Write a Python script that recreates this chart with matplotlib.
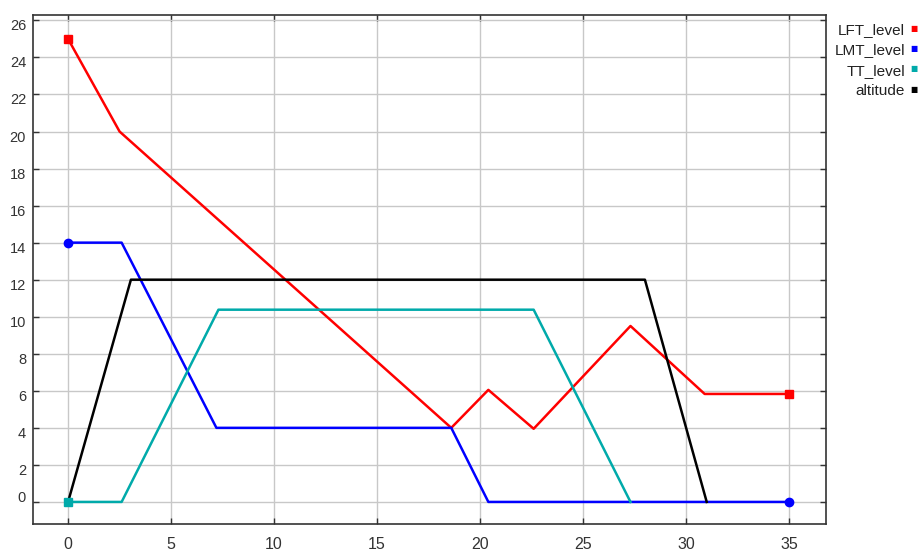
import matplotlib
matplotlib.use('Agg')
import matplotlib.pyplot as plt
import matplotlib.transforms as mtransforms

plt.rcParams['font.family'] = ['Liberation Sans', 'DejaVu Sans']

# series
series_names = ['LFT_level', 'LMT_level', 'TT_level', 'altitude']
series_colors = ['#ff0000', '#0000ff', '#00aaaa', '#000000']

lft_x = [0, 2.5, 18.6, 20.4, 22.6, 27.3, 30.9, 35]
lft_y = [25, 20, 4, 6.05, 3.95, 9.5, 5.83, 5.83]

lmt_x = [0, 2.6, 7.2, 18.6, 20.4, 35]
lmt_y = [14, 14, 4, 4, 0, 0]

tt_x = [0, 2.6, 7.3, 22.6, 27.3]
tt_y = [0, 0, 10.38, 10.38, 0]

alt_x = [0, 3.05, 28.0, 31.0]
alt_y = [0, 12, 12, 0]

xs = [lft_x, lmt_x, tt_x, alt_x]
ys = [lft_y, lmt_y, tt_y, alt_y]
end_markers = ['s', 'o', 's', None]

x_ticks = list(range(0, 36, 5))
y_ticks = list(range(0, 27, 2))

fig = plt.figure(figsize=(9.18, 5.5), dpi=100)
ax = fig.add_axes([0.036, 0.047, 0.864, 0.926])

for i in range(4):
    ax.plot(xs[i], ys[i], color=series_colors[i], lw=1.8, zorder=3)
    if end_markers[i] is not None:
        if i == 2:
            ex, ey = [xs[i][0]], [ys[i][0]]
        else:
            ex, ey = [xs[i][0], xs[i][-1]], [ys[i][0], ys[i][-1]]
        ax.plot(ex, ey, ls='none', marker=end_markers[i], ms=6,
                color=series_colors[i], zorder=4)

ax.set_xlim(-1.7, 36.8)
ax.set_ylim(-1.2, 26.3)
ax.set_xticks(x_ticks)
ax.set_yticks(y_ticks)
ax.grid(True, color='#c8c8c8', lw=1)
ax.set_axisbelow(True)
ax.tick_params(direction='in', length=4, width=1, colors='#333333',
               top=True, right=True, labelcolor='#333333')
ax.tick_params(axis='y', labelsize=10.5, pad=5)
ax.tick_params(axis='x', labelsize=11.5, pad=9)
for s in ax.spines.values():
    s.set_color('#333333')
    s.set_linewidth(1.2)

# y labels sit a little below their ticks, the bottom one above it
down = mtransforms.ScaledTranslation(0, -4.5 / 100, fig.dpi_scale_trans)
up = mtransforms.ScaledTranslation(0, 5 / 100, fig.dpi_scale_trans)
for val, lab in zip(y_ticks, ax.get_yticklabels()):
    lab.set_transform(lab.get_transform() + (up if val == 0 else down))

# legend at right, labels right aligned with small square keys
for i, name in enumerate(series_names):
    yy = 1 - (30 + 20.3 * i) / 550
    fig.text(905 / 918, yy, name, ha='right', va='center', fontsize=11,
             color='#222222')
    fig.text(914 / 918, yy + 0.003, '\u25a0', ha='center', va='center',
             fontsize=5.5, color=series_colors[i], family='DejaVu Sans')

fig.savefig('out.png', dpi=100, facecolor='white')
